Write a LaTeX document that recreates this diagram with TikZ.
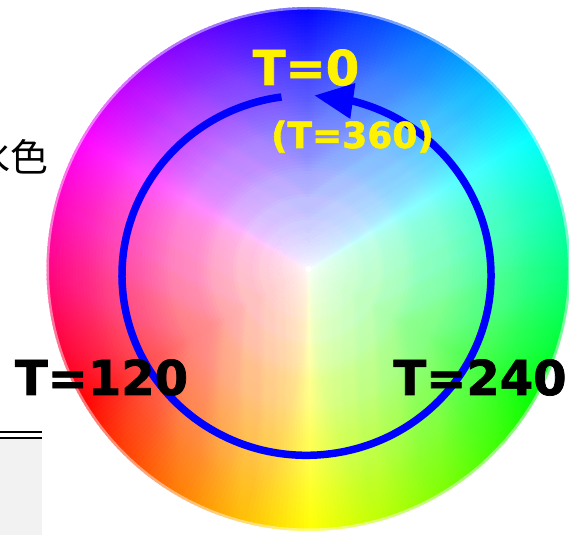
\documentclass[tikz,border=0pt]{standalone}
\usepackage{fontspec}
\setmainfont{DejaVu Sans}
\newfontfamily\lblfont[FakeBold=1.5]{DejaVu Sans Bold}
\newfontfamily\jpfont{Noto Sans CJK JP}
\usetikzlibrary{arrows.meta,bending}
\tikzset{
  bigyellow/.style={text=yellow, font=\lblfont\fontsize{48}{50}\selectfont, inner sep=0pt},
  smallyellow/.style={text=yellow, font=\lblfont\fontsize{36}{38}\selectfont, inner sep=0pt},
  bigblack/.style={text=black, font=\lblfont\fontsize{48}{50}\selectfont, inner sep=0pt},
  huearrow/.style={draw=blue, line width=7.5pt, line cap=butt,
    -{Triangle[length=39pt,width=34pt,flex=1]}},
  ruleline/.style={draw=black, line width=2.3pt}
}
\begin{document}
\begin{tikzpicture}[x=1pt,y=1pt]
\useasboundingbox (0,0) rectangle (569,535);
\coordinate (wheel) at (308.5,266);
\coordinate (ell) at (306.5,259.7);
% hue wheel
\foreach \a in {0,...,359} {
  \pgfmathsetmacro\hh{mod(\a+150,360)}
  \definecolor{wcol}{Hsb}{\hh,1,1}
  \fill[wcol] (wheel) -- ++(\a:262) arc[start angle=\a, end angle=\a+1.6, radius=262] -- cycle;
}
% whitening toward the centre
\fill[white] (wheel) circle[radius=3.275];
\foreach \k in {2,...,80} {
  \pgfmathsetmacro\op{1-exp(1.2*ln((\k-1)/\k))}
  \pgfmathsetmacro\rr{3.275*\k}
  \fill[white, opacity=\op] (wheel) circle[radius=\rr];
}
\draw[white, line width=3pt, opacity=0.45] (wheel) circle[radius=261];
% left fragments
\node[anchor=base east, inner sep=0pt, font=\jpfont\fontsize{38}{40}\selectfont] (mizuiro) at (49,363) {水色};
\fill[gray!10] (0,0) rectangle (42,96);
\coordinate (r1a) at (0,102.8); \coordinate (r1b) at (42,102.8);
\coordinate (r2a) at (0,97.2); \coordinate (r2b) at (42,97.2);
\draw[ruleline] (r1a) -- (r1b);
\draw[ruleline] (r2a) -- (r2b);
% hue arrow
\draw[huearrow] (ell) ++(97.8:184.5 and 180) arc[start angle=97.8, end angle=447.6, x radius=184.5, y radius=180];
% labels
\node[bigyellow, anchor=base] (t0) at (306,450) {T=0};
\node[smallyellow, anchor=base] (t360) at (352.5,387) {(T=360)};
\node[bigblack, anchor=base] (t120) at (101.5,140) {T=120};
\node[bigblack, anchor=base] (t240) at (480,140) {T=240};
\end{tikzpicture}
\end{document}
